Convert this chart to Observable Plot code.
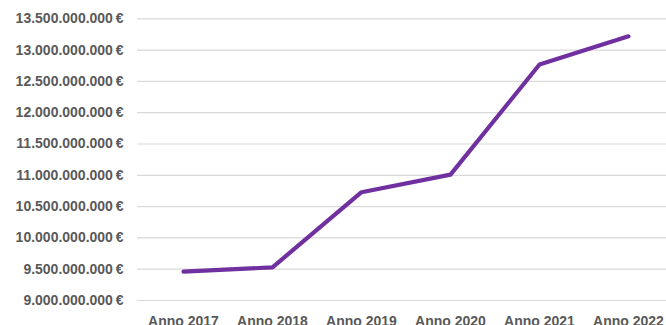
<!DOCTYPE html>
<html>
<head>
<meta charset="utf-8">
<script src="https://cdn.jsdelivr.net/npm/d3@7"></script>
<script src="https://cdn.jsdelivr.net/npm/@observablehq/plot@0.6"></script>
<style>
  html, body { margin: 0; padding: 0; background: #fff; }
  #chart svg { display: block; }
</style>
</head>
<body>
<div id="chart"></div>
<script>
const years = ["Anno 2017", "Anno 2018", "Anno 2019", "Anno 2020", "Anno 2021", "Anno 2022"];
const values = [9.46e9, 9.53e9, 10.73e9, 11.01e9, 12.77e9, 13.22e9];
const yTicks = [9.0e9, 9.5e9, 10.0e9, 10.5e9, 11.0e9, 11.5e9, 12.0e9, 12.5e9, 13.0e9, 13.5e9];

const data = years.map((anno, i) => ({anno, value: values[i]}));
const fmt = d => d3.format(",")(d).replace(/,/g, ".") + "\u2009€";

const chart = Plot.plot({
  width: 666,
  height: 325,
  marginLeft: 137,
  marginRight: 0,
  marginTop: 0,
  marginBottom: 25,
  style: {fontFamily: "'Liberation Sans', Arial, sans-serif", fontSize: "14px", fontWeight: "bold", color: "#595959", background: "#fff"},
  x: {type: "point", domain: years, range: [137.4, 673.6], padding: 0.5, label: null},
  y: {domain: [9e9, 13.5e9], range: [300, 18.3], label: null},
  marks: [
    Plot.ruleY(yTicks, {stroke: "#d9d9d9", strokeWidth: 1.2}),
    Plot.axisY(yTicks, {tickSize: 0, tickPadding: 14, tickFormat: fmt, label: null, fill: "#595959"}),
    Plot.axisX(years, {tickSize: 0, tickPadding: 16, label: null, fill: "#595959"}),
    Plot.line(data, {x: "anno", y: "value", stroke: "#7030a0", strokeWidth: 4.2, strokeLinecap: "round", strokeLinejoin: "round"})
  ]
});
document.getElementById("chart").appendChild(chart);
</script>
</body>
</html>
